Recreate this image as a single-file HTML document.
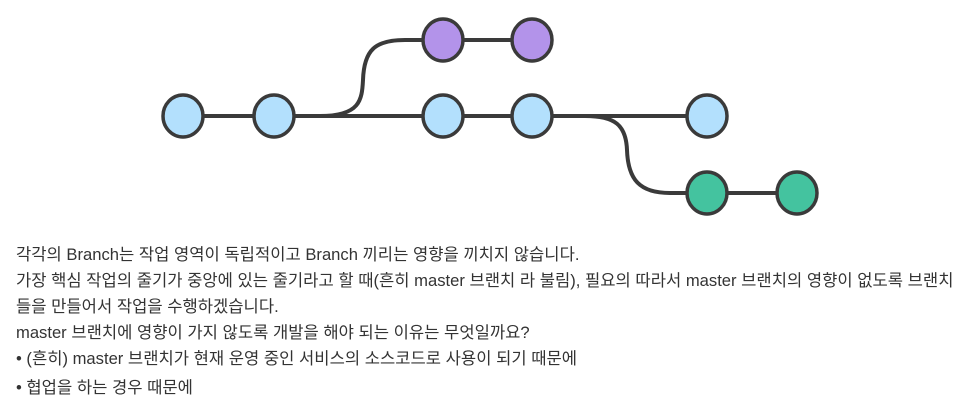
<!DOCTYPE html>
<html><head><meta charset="utf-8"><style>
html,body{margin:0;padding:0;background:#fff;width:960px;height:406px;overflow:hidden}
.t{position:absolute;left:16px;font-family:"Liberation Sans","Noto Sans CJK KR",sans-serif;font-size:16.6px;color:#333;white-space:nowrap;line-height:20px}
</style></head><body>
<svg width="960" height="406" style="position:absolute;left:0;top:0">
<g fill="none" stroke="#3a3a3a" stroke-width="4">
<path d="M183 116 H709"/>
<path d="M320 116 C360 116 362 100 363 80 C364 50 375 40 405 40 H532"/>
<path d="M585 116 C615 116 626 125 627 150 C628 180 640 193 670 193 H797"/>
</g>
<g stroke="#3a3a3a" stroke-width="3.5">
<ellipse cx="183" cy="116" rx="20" ry="21" fill="#b3e0fd"/>
<ellipse cx="274" cy="116" rx="20" ry="21" fill="#b3e0fd"/>
<ellipse cx="443" cy="116" rx="20" ry="21" fill="#b3e0fd"/>
<ellipse cx="532" cy="116" rx="20" ry="21" fill="#b3e0fd"/>
<ellipse cx="707" cy="116" rx="20" ry="21" fill="#b3e0fd"/>
<ellipse cx="443" cy="40" rx="20" ry="21" fill="#b393ea"/>
<ellipse cx="532" cy="40" rx="20" ry="21" fill="#b393ea"/>
<ellipse cx="707" cy="193" rx="20" ry="21" fill="#44c39f"/>
<ellipse cx="797" cy="193" rx="20" ry="21" fill="#44c39f"/>
</g>
</svg>
<div class="t" style="top:245px">각각의 Branch는 작업 영역이 독립적이고 Branch 끼리는 영향을 끼치지 않습니다.</div>
<div class="t" style="top:271px">가장 핵심 작업의 줄기가 중앙에 있는 줄기라고 할 때(흔히 master 브랜치 라 불림), 필요의 따라서 master 브랜치의 영향이 없도록 브랜치</div>
<div class="t" style="top:297px">들을 만들어서 작업을 수행하겠습니다.</div>
<div class="t" style="top:323px">master 브랜치에 영향이 가지 않도록 개발을 해야 되는 이유는 무엇일까요?</div>
<div class="t" style="top:349px">• (흔히) master 브랜치가 현재 운영 중인 서비스의 소스코드로 사용이 되기 때문에</div>
<div class="t" style="top:378px">• 협업을 하는 경우 때문에</div>
</body></html>
